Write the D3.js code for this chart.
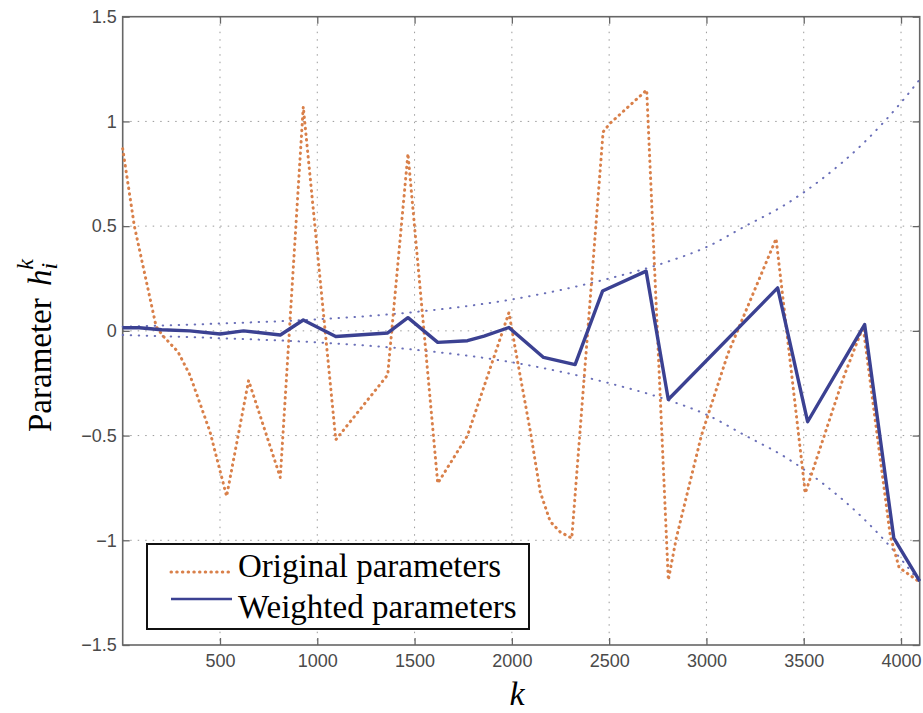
<!DOCTYPE html>
<html>
<head>
<meta charset="utf-8">
<script src="https://cdn.jsdelivr.net/npm/d3@7"></script>
<style>
  body { margin: 0; background: #fff; }
  svg { display: block; }
  .tick text { font-family: "Liberation Sans", Arial, sans-serif; font-size: 18px; fill: #4a4a4a; }
  .tick line { stroke: #666; stroke-width: 1.3; }
  .domain { display: none; }
</style>
</head>
<body>
<script>
// original parameters (k, value)
var origK = [0, 60, 172, 207, 284, 345, 448, 534, 647, 810, 928, 1095, 1362, 1466, 1619, 1772, 1985,
             2027, 2095, 2146, 2197, 2248, 2308, 2469, 2504, 2693, 2804, 2845, 2974, 3110, 3358, 3508,
             3703, 3805, 3945, 3990, 4096];
var origV = [0.87, 0.5, 0.02, -0.024, -0.10, -0.21, -0.48, -0.79, -0.237, -0.70, 1.07, -0.52, -0.21, 0.846, -0.728, -0.5, 0.087,
             -0.134, -0.48, -0.77, -0.91, -0.96, -0.99, 0.95, 0.99, 1.15, -1.19, -0.99, -0.5, -0.11, 0.44, -0.775,
             -0.226, 0.02, -0.98, -1.13, -1.2];

// weighted parameters
var wK = [0, 86, 200, 345, 500, 621, 810, 928, 1095, 1362, 1466, 1619, 1772, 1857, 1985, 2163, 2325,
          2466, 2690, 2804, 3366, 3520, 3813, 3963, 4096];
var wV = [0.015, 0.015, 0.005, 0.0, -0.015, 0.0, -0.02, 0.052, -0.027, -0.01, 0.063, -0.055, -0.047, -0.025, 0.016, -0.127, -0.161,
          0.19, 0.285, -0.328, 0.205, -0.434, 0.03, -0.99, -1.195];

// envelope bounds
var envK = [0, 500, 1000, 1500, 2000, 2500, 2800, 3000, 3200, 3400, 3600, 3800, 4000, 4096];
var envUp = [0.02, 0.035, 0.055, 0.09, 0.15, 0.25, 0.33, 0.40, 0.50, 0.60, 0.73, 0.89, 1.09, 1.2];
var envLo = [-0.02, -0.035, -0.055, -0.09, -0.15, -0.25, -0.33, -0.40, -0.50, -0.60, -0.73, -0.89, -1.09, -1.2];

var xTicks = [500, 1000, 1500, 2000, 2500, 3000, 3500, 4000];
var yTicks = [-1.5, -1, -0.5, 0, 0.5, 1, 1.5];
var legendLabels = ["Original parameters", "Weighted parameters"];

var W = 923, H = 713;
var margin = {top: 16.7, right: 3.3, bottom: 68, left: 122.7},
    width = W - margin.left - margin.right,
    height = H - margin.top - margin.bottom;

var svg = d3.select("body").append("svg")
    .attr("width", W)
    .attr("height", H);

var g = svg.append("g")
    .attr("transform", "translate(" + margin.left + "," + margin.top + ")");

var x = d3.scaleLinear().domain([0, 4096]).range([0, width]);
var y = d3.scaleLinear().domain([-1.5, 1.5]).range([height, 0]);

// grid
g.selectAll(".gx").data(xTicks).enter().append("line")
    .attr("x1", function(d){ return x(d); }).attr("x2", function(d){ return x(d); })
    .attr("y1", 0).attr("y2", height)
    .attr("stroke", "#9a9a9a").attr("stroke-width", 1)
    .attr("stroke-dasharray", "1.5,6");
g.selectAll(".gy").data(yTicks.filter(function(d){ return Math.abs(d) < 1.5; })).enter().append("line")
    .attr("x1", 0).attr("x2", width)
    .attr("y1", function(d){ return y(d); }).attr("y2", function(d){ return y(d); })
    .attr("stroke", "#9a9a9a").attr("stroke-width", 1)
    .attr("stroke-dasharray", "1.5,6");

// axes, ticks inside on all four sides
var fmt = d3.format("~g");
g.append("g").attr("transform", "translate(0," + height + ")")
    .call(d3.axisBottom(x).tickValues(xTicks).tickSizeInner(-7).tickSizeOuter(0).tickPadding(9).tickFormat(d3.format("d")));
g.append("g")
    .call(d3.axisTop(x).tickValues(xTicks).tickSizeInner(-7).tickSizeOuter(0).tickFormat(""));
g.append("g")
    .call(d3.axisLeft(y).tickValues(yTicks).tickSizeInner(-7).tickSizeOuter(0).tickPadding(6).tickFormat(fmt));
g.append("g").attr("transform", "translate(" + width + ",0)")
    .call(d3.axisRight(y).tickValues(yTicks).tickSizeInner(-7).tickSizeOuter(0).tickFormat(""));

g.append("rect")
    .attr("width", width).attr("height", height)
    .attr("fill", "none").attr("stroke", "#666").attr("stroke-width", 1.6);

var line = d3.line()
    .x(function(d){ return x(d[0]); })
    .y(function(d){ return y(d[1]); });
var smooth = d3.line()
    .x(function(d){ return x(d[0]); })
    .y(function(d){ return y(d[1]); })
    .curve(d3.curveMonotoneX);

// envelopes
[envUp, envLo].forEach(function(arr){
    g.append("path")
        .datum(envK.map(function(k, i){ return [k, arr[i]]; }))
        .attr("d", smooth)
        .attr("fill", "none")
        .attr("stroke", "#6a6fb8")
        .attr("stroke-width", 2)
        .attr("stroke-linecap", "round")
        .attr("stroke-dasharray", "0.5,7.5");
});

// original parameters
g.append("path")
    .datum(origK.map(function(k, i){ return [k, origV[i]]; }))
    .attr("d", line)
    .attr("fill", "none")
    .attr("stroke", "#d9804a")
    .attr("stroke-width", 3)
    .attr("stroke-linecap", "round")
    .attr("stroke-linejoin", "round")
    .attr("stroke-dasharray", "0.5,5.2");

// weighted parameters
g.append("path")
    .datum(wK.map(function(k, i){ return [k, wV[i]]; }))
    .attr("d", line)
    .attr("fill", "none")
    .attr("stroke", "#3b4192")
    .attr("stroke-width", 3.4)
    .attr("stroke-linejoin", "round");

// legend
var leg = svg.append("g").attr("transform", "translate(147,544)");
leg.append("rect")
    .attr("width", 382).attr("height", 85)
    .attr("fill", "#fff").attr("stroke", "#111").attr("stroke-width", 2);
leg.append("line")
    .attr("x1", 24).attr("x2", 83).attr("y1", 28).attr("y2", 28)
    .attr("stroke", "#d9804a").attr("stroke-width", 3)
    .attr("stroke-linecap", "round").attr("stroke-dasharray", "0.5,5.2");
leg.append("line")
    .attr("x1", 24).attr("x2", 85).attr("y1", 55).attr("y2", 55)
    .attr("stroke", "#3b4192").attr("stroke-width", 2.4);
leg.selectAll("text").data(legendLabels).enter().append("text")
    .attr("x", 91)
    .attr("y", function(d, i){ return 33 + i * 41; })
    .attr("font-family", "'Liberation Serif', 'Times New Roman', serif")
    .attr("font-size", 33)
    .attr("fill", "#000")
    .text(function(d){ return d; });

// x label
svg.append("text")
    .attr("x", 517).attr("y", 705)
    .attr("text-anchor", "middle")
    .attr("font-family", "'Liberation Serif', 'Times New Roman', serif")
    .attr("font-style", "italic")
    .attr("font-size", 34)
    .text("k");

// y label
var yl = svg.append("text")
    .attr("transform", "translate(51,432) rotate(-90)")
    .attr("font-family", "'Liberation Serif', 'Times New Roman', serif")
    .attr("font-size", 33);
yl.append("tspan").text("Parameter ");
yl.append("tspan").attr("dx", 4).attr("font-style", "italic").text("h");
yl.append("tspan").attr("dy", 6).attr("font-size", 24).attr("font-style", "italic").text("i");
yl.append("tspan").attr("dx", -7).attr("dy", -24).attr("font-size", 24).attr("font-style", "italic").text("k");
</script>
</body>
</html>
